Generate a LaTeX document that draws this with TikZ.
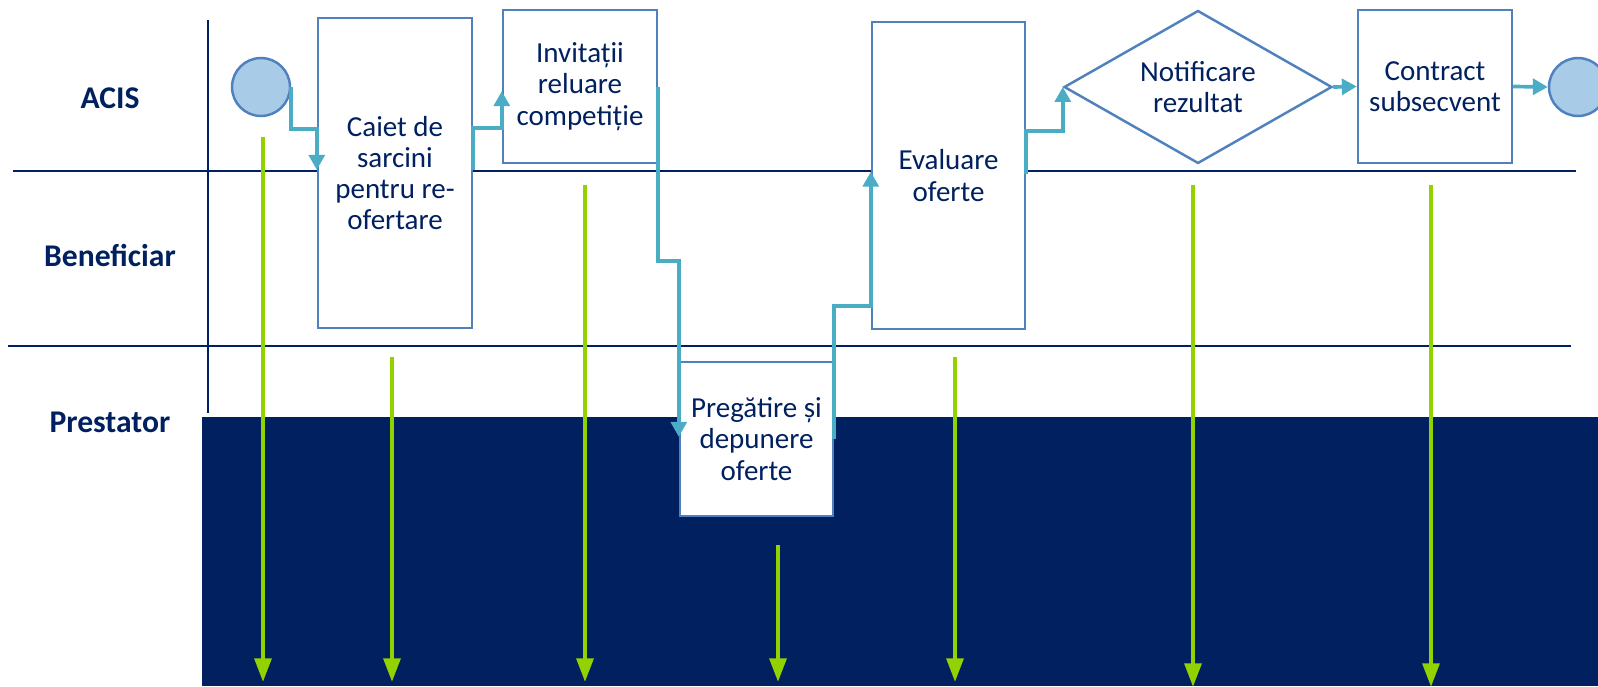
\documentclass[tikz,border=0pt]{standalone}
\usepackage{fontspec}
\setmainfont{Carlito}
\usetikzlibrary{calc,arrows.meta,shapes.geometric}
\definecolor{navy}{RGB}{0,32,96}
\definecolor{boxblue}{RGB}{79,129,189}
\definecolor{flowteal}{RGB}{75,172,198}
\definecolor{cuegreen}{RGB}{146,210,0}
\definecolor{dotfill}{RGB}{168,203,232}
\tikzset{
	taskbox/.style={draw=boxblue, line width=1.4pt, fill=white, text=navy, align=center, inner sep=2pt, font=\fontsize{16.5}{17.8}\selectfont},
	decisionbox/.style={taskbox, diamond, aspect=1.75, inner sep=0pt},
	endpoint/.style={circle, draw=boxblue, line width=1.4pt, fill=dotfill, minimum size=1.16cm, inner sep=0pt},
	flowline/.style={draw=flowteal, line width=2.1pt, -{Triangle[width=9pt,length=8.5pt]}},
	cueline/.style={draw=cuegreen, line width=2.4pt, -{Triangle[width=9.5pt,length=13.5pt]}},
	laneline/.style={draw=navy, line width=1.6pt},
	lanename/.style={text=navy, font=\fontsize{18}{21}\selectfont\bfseries}
}

\begin{document}
\begin{tikzpicture}[x=0.02cm, y=-0.02cm]
	%%%%% START %%%%%
	
	\useasboundingbox (0,0) rectangle (1598,686);
	\fill[navy] (202,417) rectangle (1598,686);
	
	\draw[laneline] (13,171) -- (1576,171);
	\draw[laneline] (8,346) -- (1571,346);
	\draw[laneline] (208,20) -- (208,413);
	
	\node[lanename] (acis) at (110,98) {ACIS};
	\node[lanename] (benef) at (110,255) {Beneficiar};
	\node[lanename] (prest) at (110,422) {Prestator};
	
	\node[endpoint] (start) at (261,87) {};
	\node[taskbox, minimum width=3.08cm, minimum height=6.2cm] (caiet) at (395,173) {Caiet de\\sarcini\\pentru re-\\ofertare};
	\node[taskbox, minimum width=3.08cm, minimum height=3.06cm] (invit) at (580,86.5) {Invitații\\reluare\\competiție};
	\node[taskbox, minimum width=3.06cm, minimum height=3.08cm] (pregat) at (756.5,439) {Pregătire și\\depunere\\oferte};
	\node[taskbox, minimum width=3.06cm, minimum height=6.14cm] (eval) at (948.5,175.5) {Evaluare\\oferte};
	\node[decisionbox, minimum width=5.36cm, minimum height=3.06cm] (notif) at (1198,87) {Notificare\\rezultat};
	\node[taskbox, minimum width=3.08cm, minimum height=3.06cm] (contract) at (1435,86.5) {Contract\\subsecvent};
	\node[endpoint] (stop) at (1578,87) {};
	
	\draw[flowline] (start.east) -- ++(0,42) -| ($(caiet.north west)+(0,153)$);
	\draw[flowline] ($(caiet.north east)+(0,153)$) -- ++(0,-42) -| ($(invit.south west)+(0,-73)$);
	\draw[flowline] ($(invit.north east)+(0,78)$) -- ++(0,174) -| ($(pregat.north west)+(0,76)$);
	\draw[flowline] ($(pregat.north east)+(0,78)$) -- ++(0,-133) -| ($(eval.north west)+(0,151)$);
	\draw[flowline] ($(eval.north east)+(0,153)$) -- ++(0,-43) -| (notif.west);
	\draw[flowline] (notif.east) -- (contract.west);
	\draw[flowline] (contract.east) -- (stop.west);
	
	\foreach \gx/\gtop/\gbot [count=\i] in {263/137/682, 392/357/682, 585/185/682, 778/545/682, 955/357/682, 1193/185/687, 1431/185/687}{
		\coordinate (gtop\i) at (\gx,\gtop);
		\coordinate (gend\i) at (\gx,\gbot);
		\draw[cueline] (gtop\i) -- (gend\i);
	}
	
	%%%%% END %%%%%
\end{tikzpicture}
\end{document}
